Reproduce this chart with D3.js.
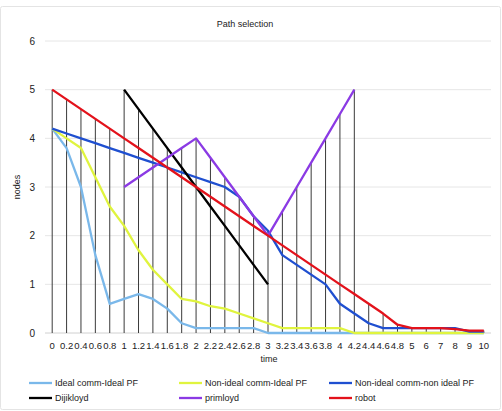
<!DOCTYPE html>
<html>
<head>
<meta charset="utf-8">
<script src="https://cdn.jsdelivr.net/npm/d3@7"></script>
<style>
  body { margin: 0; background: #fff; }
  text { font-family: "Liberation Sans", Arial, sans-serif; fill: #222; }
</style>
</head>
<body>
<div id="chart"></div>
<script>
// categories on the time axis
let times = ["0","0.2","0.4","0.6","0.8","1","1.2","1.4","1.6","1.8","2","2.2","2.4","2.6","2.8","3",
             "3.2","3.4","3.6","3.8","4","4.2","4.4","4.6","4.8","5","6","7","8","9","10"];

let idealIdeal = [4.2,3.8,3.0,1.6,0.6,0.7,0.8,0.7,0.5,0.2,0.1,0.1,0.1,0.1,0.1,0,
                  0,0,0,0,0,0,0,0,0,0,0,0,0,0,0];
let nonIdealIdeal = [4.2,4.0,3.8,3.2,2.6,2.2,1.7,1.3,1.0,0.7,0.65,0.55,0.5,0.4,0.3,0.2,
                     0.1,0.1,0.1,0.1,0.1,0,0,0,0,0,0,0,0,0,0];
let nonIdealNonIdeal = [4.2,4.1,4.0,3.9,3.8,3.7,3.6,3.5,3.4,3.3,3.2,3.1,3.0,2.8,2.4,2.1,
                        1.6,1.4,1.2,1.0,0.6,0.4,0.2,0.1,0.1,0.1,0.1,0.1,0.1,0.03,0.03];
let dijikloyd = [null,null,null,null,null,5,4.6,4.2,3.8,3.4,3.0,2.6,2.2,1.8,1.4,1.0,
                 null,null,null,null,null,null,null,null,null,null,null,null,null,null,null];
let primloyd = [null,null,null,null,null,3,3.2,3.4,3.6,3.8,4.0,3.6,3.2,2.8,2.4,2.0,
                2.5,3.0,3.5,4.0,4.5,5.0,null,null,null,null,null,null,null,null,null];
let robot = [5,4.8,4.6,4.4,4.2,4.0,3.8,3.6,3.4,3.2,3.0,2.8,2.6,2.4,2.2,2.0,
             1.8,1.6,1.4,1.2,1.0,0.8,0.6,0.4,0.17,0.1,0.1,0.1,0.08,0.05,0.05];

let yTicks = [0,1,2,3,4,5,6];

let series = [
    { name: "Ideal comm-Ideal PF", values: idealIdeal, color: "#7ab8ea" },
    { name: "Non-ideal comm-Ideal PF", values: nonIdealIdeal, color: "#e0f43e" },
    { name: "Non-ideal comm-non ideal PF", values: nonIdealNonIdeal, color: "#1f4fd0" },
    { name: "Dijikloyd", values: dijikloyd, color: "#000000" },
    { name: "primloyd", values: primloyd, color: "#8b3ae4" },
    { name: "robot", values: robot, color: "#e3121b" }
];

let W = 502, H = 411;
let margin = { top: 41, right: 11, bottom: 78, left: 45 },
    width = W - margin.left - margin.right,
    height = H - margin.top - margin.bottom;

let svg = d3.select("#chart")
    .append("svg")
    .attr("width", W)
    .attr("height", H);

// outer frame
svg.append("rect")
    .attr("x", 0.5).attr("y", 6.5)
    .attr("width", W - 2).attr("height", H - 8)
    .attr("rx", 2)
    .attr("fill", "#fff")
    .attr("stroke", "#e4e4e4");

let g = svg.append("g")
    .attr("transform", "translate(" + margin.left + "," + margin.top + ")");

let x = d3.scalePoint()
    .domain(times)
    .range([0, width])
    .padding(0.5);

let y = d3.scaleLinear()
    .domain([0, 6])
    .range([height, 0]);

// gridlines
g.selectAll(".grid")
    .data(yTicks)
    .enter()
    .append("line")
    .attr("x1", 0).attr("x2", width)
    .attr("y1", d => y(d)).attr("y2", d => y(d))
    .attr("stroke", d => d === 0 ? "#d0d0d0" : "#e6e6e6")
    .attr("stroke-width", 1);

// y tick labels
g.selectAll(".ylab")
    .data(yTicks)
    .enter()
    .append("text")
    .attr("x", -10)
    .attr("y", d => y(d) + 3.5)
    .attr("text-anchor", "end")
    .attr("font-size", "10px")
    .text(d => d);

// x tick labels
g.selectAll(".xlab")
    .data(times)
    .enter()
    .append("text")
    .attr("x", d => x(d))
    .attr("y", height + 16)
    .attr("text-anchor", "middle")
    .attr("font-size", "9.5px")
    .text(d => d);

// drop lines from the highest point down to the axis
let maxAt = times.map((t, i) => d3.max(series, s => s.values[i]));
g.selectAll(".drop")
    .data(times)
    .enter()
    .append("line")
    .attr("x1", d => x(d)).attr("x2", d => x(d))
    .attr("y1", (d, i) => y(maxAt[i]))
    .attr("y2", y(0))
    .attr("stroke", "#3a3a3a")
    .attr("stroke-width", 1);

let line = d3.line()
    .defined(d => d.v !== null)
    .x(d => x(d.t))
    .y(d => y(d.v));

g.selectAll(".series")
    .data(series)
    .enter()
    .append("path")
    .attr("d", s => line(s.values.map((v, i) => ({ t: times[i], v: v }))))
    .attr("fill", "none")
    .attr("stroke", s => s.color)
    .attr("stroke-width", 2.3)
    .attr("stroke-linejoin", "round");

// titles
svg.append("text")
    .attr("x", 245).attr("y", 27)
    .attr("text-anchor", "middle")
    .attr("font-size", "9px")
    .text("Path selection");

svg.append("text")
    .attr("x", margin.left + width / 2 + 1).attr("y", 362)
    .attr("text-anchor", "middle")
    .attr("font-size", "9px")
    .text("time");

svg.append("text")
    .attr("transform", "translate(20," + (margin.top + height / 2) + ") rotate(-90)")
    .attr("text-anchor", "middle")
    .attr("font-size", "9px")
    .text("nodes");

// legend
let legend = svg.selectAll(".legend")
    .data(series)
    .enter()
    .append("g")
    .attr("transform", (d, i) => "translate(" + (29 + (i % 3) * 150) + "," + (383 + Math.floor(i / 3) * 15) + ")");

legend.append("line")
    .attr("x1", 0).attr("x2", 23)
    .attr("stroke", d => d.color)
    .attr("stroke-width", 2.3);

legend.append("text")
    .attr("x", 26).attr("y", 3.3)
    .attr("font-size", "9px")
    .text(d => d.name);
</script>
</body>
</html>
